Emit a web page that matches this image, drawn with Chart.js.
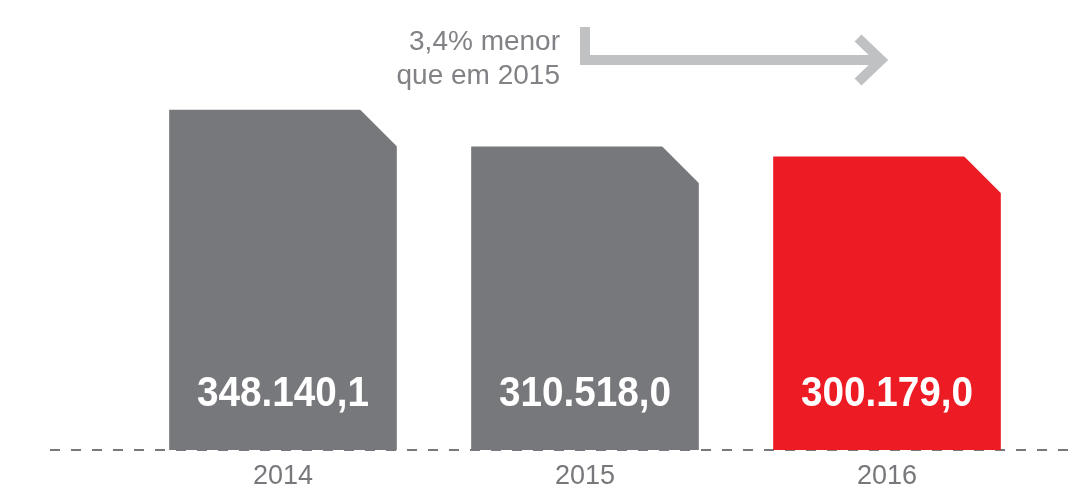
<!DOCTYPE html>
<html>
<head>
<meta charset="utf-8">
<script src="https://cdn.jsdelivr.net/npm/chart.js@4/dist/chart.umd.min.js"></script>
<style>
html,body{margin:0;padding:0;background:#fff;overflow:hidden;}
canvas{display:block;}
</style>
</head>
<body>
<canvas id="c" width="1075" height="491"></canvas>
<script>
const categories = ["2014", "2015", "2016"];
const values = [348140.1, 310518.0, 300179.0];
const valueLabels = ["348.140,1", "310.518,0", "300.179,0"];
const barColors = ["#77787b", "#77787b", "#ed1c24"];
const noteLines = ["3,4% menor", "que em 2015"];

const decorPlugin = {
  id: 'decor',
  beforeDatasetsDraw(chart) {
    const ctx = chart.ctx;
    const base = chart.scales.y.getPixelForValue(0);
    ctx.save();
    ctx.strokeStyle = '#77787b';
    ctx.lineWidth = 2;
    ctx.setLineDash([10, 11]);
    ctx.beginPath();
    ctx.moveTo(50, base);
    ctx.lineTo(1075, base);
    ctx.stroke();
    ctx.restore();
  },
  afterDatasetsDraw(chart) {
    const ctx = chart.ctx;
    const meta = chart.getDatasetMeta(0);
    const cut = 37;
    ctx.save();
    meta.data.forEach((bar, i) => {
      const right = bar.x + bar.width / 2;
      const top = bar.y;
      // chamfer top-right corner
      ctx.fillStyle = '#ffffff';
      ctx.beginPath();
      ctx.moveTo(right - cut, top - 1);
      ctx.lineTo(right + 1, top - 1);
      ctx.lineTo(right + 1, top + cut);
      ctx.closePath();
      ctx.fill();
      // value label (condensed bold)
      ctx.save();
      ctx.translate(bar.x, 406);
      ctx.scale(0.9, 1);
      ctx.fillStyle = '#ffffff';
      ctx.font = 'bold 43px "Liberation Sans", Arial, sans-serif';
      ctx.textAlign = 'center';
      ctx.textBaseline = 'alphabetic';
      ctx.fillText(valueLabels[i], 0, 0);
      ctx.restore();
      // category label
      ctx.fillStyle = '#77787b';
      ctx.font = '27px "Liberation Sans", sans-serif';
      ctx.textAlign = 'center';
      ctx.textBaseline = 'alphabetic';
      ctx.fillText(categories[i], bar.x, 484);
    });
    // annotation text
    ctx.fillStyle = '#808285';
    ctx.font = '28px "Liberation Sans", sans-serif';
    ctx.textAlign = 'right';
    ctx.fillText(noteLines[0], 560, 50);
    ctx.fillText(noteLines[1], 560, 84);
    // arrow
    ctx.strokeStyle = '#bfc1c2';
    ctx.lineWidth = 10;
    ctx.lineCap = 'butt';
    ctx.lineJoin = 'miter';
    ctx.beginPath();
    ctx.moveTo(585, 27);
    ctx.lineTo(585, 60);
    ctx.lineTo(882, 60);
    ctx.stroke();
    ctx.beginPath();
    ctx.moveTo(858, 38);
    ctx.lineTo(881, 60);
    ctx.lineTo(858, 82);
    ctx.stroke();
    ctx.restore();
  }
};

new Chart(document.getElementById('c'), {
  type: 'bar',
  data: {
    labels: categories,
    datasets: [{
      data: values,
      backgroundColor: barColors,
      borderWidth: 0,
      barThickness: 227
    }]
  },
  options: {
    responsive: false,
    animation: false,
    devicePixelRatio: 1,
    layout: { padding: { left: 132, right: 37, top: 0, bottom: 41 } },
    plugins: { legend: { display: false }, tooltip: { enabled: false } },
    scales: {
      x: { display: false },
      y: { display: false, min: 0, max: 460800 }
    }
  },
  plugins: [decorPlugin]
});
</script>
</body>
</html>
